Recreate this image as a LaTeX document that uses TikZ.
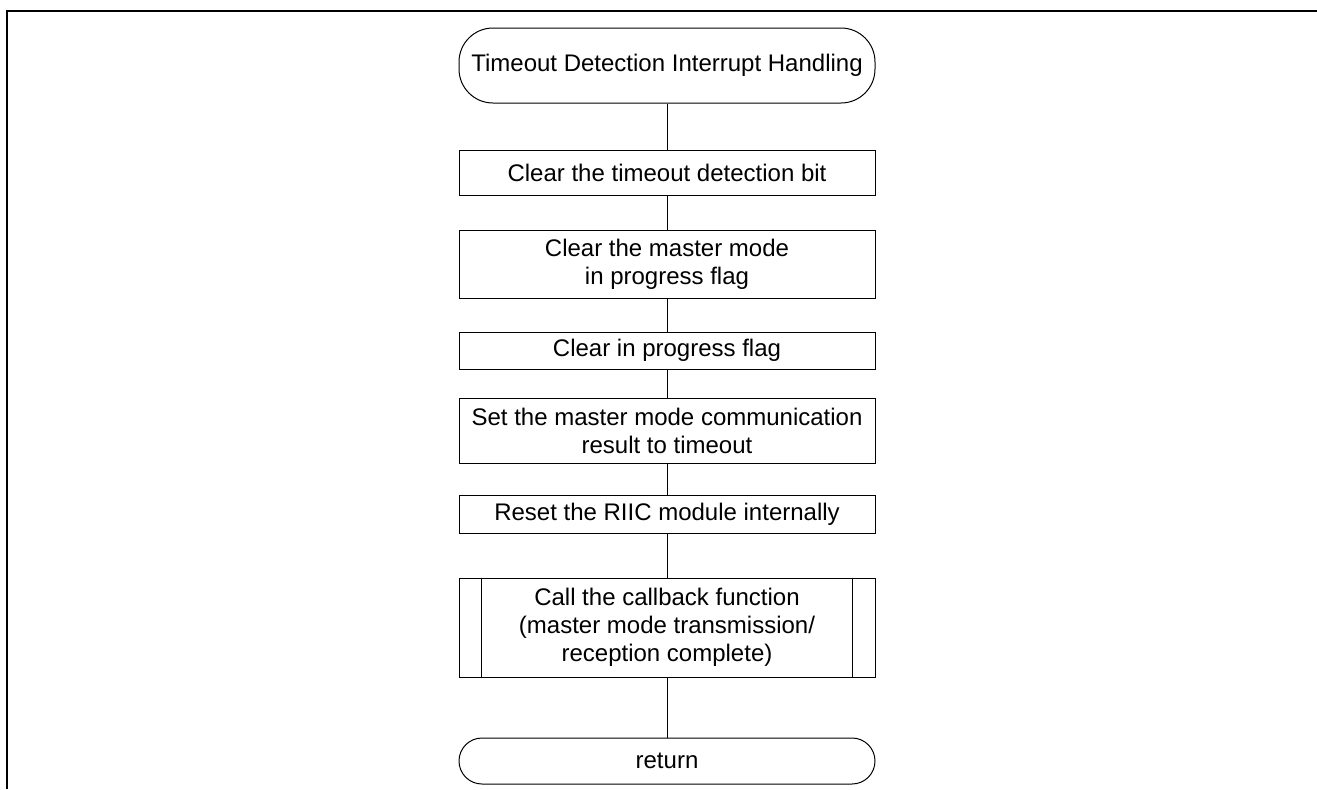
\documentclass[tikz,border=0pt]{standalone}
\usepackage{fontspec}
\setmainfont{Liberation Sans}
\usetikzlibrary{positioning}
\tikzstyle{terminal}=[rectangle,draw=black,line width=0.5pt,minimum width=208pt,
inner sep=0pt,align=center]
\tikzstyle{process}=[rectangle,draw=black,line width=0.5pt,minimum width=208pt,
inner sep=0pt,align=center]
\tikzstyle{frame}=[line width=1pt]
\tikzstyle{flow}=[draw,line width=0.5pt]

\begin{document}
\begin{tikzpicture}[x=0.5pt,y=-0.5pt,font=\fontsize{12}{14}\selectfont]
    \useasboundingbox (0,0) rectangle (1317,789);
    \draw[frame] (1317,11) -- (7,11) -- (7,789);

    \node[terminal,rounded corners=17pt,minimum height=37.5pt] (start) at (667,65.5)
      {Timeout Detection Interrupt Handling};
    \node[process,minimum height=22.5pt] (clrbit) [below=23pt of start]
      {Clear the timeout detection bit};
    \node[process,minimum height=34pt] (clrmst) [below=17pt of clrbit]
      {Clear the master mode \\ in progress flag};
    \node[process,minimum height=18.5pt] (clrprg) [below=16.5pt of clrmst]
      {Clear in progress flag};
    \node[process,minimum height=32.5pt] (setres) [below=14pt of clrprg]
      {Set the master mode communication \\ result to timeout};
    \node[process,minimum height=19pt] (reset) [below=15.5pt of setres]
      {Reset the RIIC module internally};
    \node[process,minimum height=49.5pt] (callback) [below=22pt of reset]
      {Call the callback function \\ (master mode transmission/ \\ reception complete)};
    \node[terminal,rounded corners=11.5pt,minimum height=23pt] (return) [below=30pt of callback]
      {return};

    \draw[line width=0.5pt] ([xshift=11.5pt]callback.north west) -- ([xshift=11.5pt]callback.south west);
    \draw[line width=0.5pt] ([xshift=-11.5pt]callback.north east) -- ([xshift=-11.5pt]callback.south east);

    \draw[flow] (start) -- (clrbit);
    \draw[flow] (clrbit) -- (clrmst);
    \draw[flow] (clrmst) -- (clrprg);
    \draw[flow] (clrprg) -- (setres);
    \draw[flow] (setres) -- (reset);
    \draw[flow] (reset) -- (callback);
    \draw[flow] (callback) -- (return);
  \end{tikzpicture}
\end{document}
